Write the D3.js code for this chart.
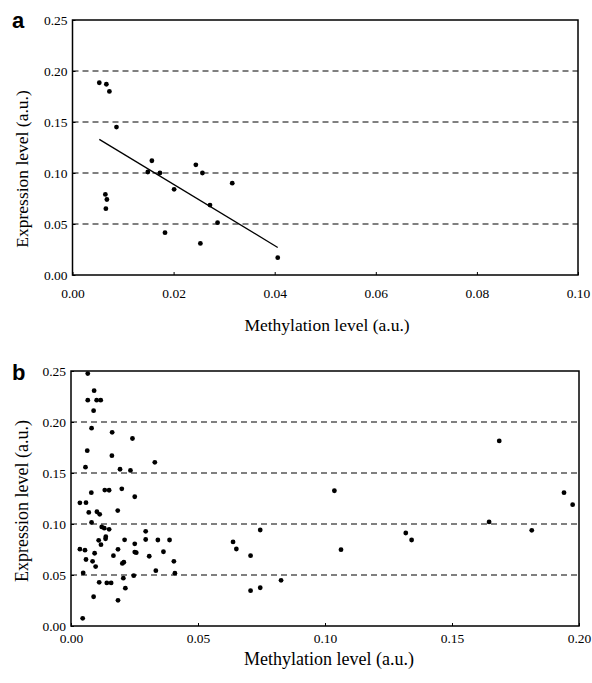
<!DOCTYPE html>
<html><head><meta charset="utf-8">
<script src="https://cdn.jsdelivr.net/npm/d3@7"></script>
<style>body{margin:0;background:#fff}svg{display:block}</style>
</head><body>
<script>
// Panel a data
const aMeth = [0.0053,0.0067,0.0073,0.0087,0.0065,0.0068,0.0066,0.0149,0.0157,0.0173,0.0201,0.0183,0.0244,0.0257,0.0253,0.0272,0.0287,0.0316,0.0406];
const aExpr = [0.1885,0.187,0.180,0.145,0.079,0.074,0.065,0.101,0.112,0.100,0.084,0.0415,0.108,0.100,0.031,0.0686,0.0513,0.090,0.017];
const aFitMeth = [0.0053,0.0406];
const aFitExpr = [0.133,0.027];
// Panel b data
const bMeth = [0.0066,0.0091,0.0066,0.0101,0.0117,0.0089,0.0081,0.0162,0.0242,0.0064,0.0161,0.0057,0.0193,0.0234,0.0330,
  0.0080,0.0133,0.0150,0.0200,0.0251,0.0035,0.0059,0.0070,0.0102,0.0113,0.0184,0.0081,0.0121,0.0131,0.0150,0.0294,
  0.0137,0.0136,0.0109,0.0211,0.0251,0.0294,0.0342,0.0388,0.0118,0.0035,0.0055,0.0093,0.0185,0.0167,0.0251,0.0257,
  0.0059,0.0085,0.0308,0.0364,0.0208,0.0202,0.0097,0.0405,0.0048,0.0247,0.0334,0.0409,0.0111,0.0141,0.0158,0.0206,
  0.0214,0.0089,0.0185,0.0046,
  0.0638,0.0651,0.0745,0.0707,0.0707,0.0745,0.0827,0.1037,0.1063,0.1318,0.1341,0.1646,0.1686,0.1814,0.1941,0.1975];
const bExpr = [0.2475,0.2307,0.2214,0.2214,0.2214,0.2111,0.1939,0.1899,0.1838,0.1719,0.1670,0.1557,0.1537,0.1525,0.1605,
  0.1307,0.1333,0.1331,0.1345,0.1267,0.1208,0.1209,0.1113,0.1120,0.1095,0.1132,0.1015,0.0971,0.0959,0.0948,0.0928,
  0.0875,0.0855,0.0840,0.0845,0.0806,0.0848,0.0843,0.0843,0.0797,0.0753,0.0743,0.0713,0.0752,0.0689,0.0725,0.0719,
  0.0652,0.0634,0.0684,0.0728,0.0625,0.0613,0.0583,0.0634,0.0520,0.0493,0.0542,0.0518,0.0428,0.0422,0.0422,0.0469,
  0.0371,0.0287,0.0252,0.0075,
  0.0824,0.0755,0.0941,0.0689,0.0346,0.0375,0.0448,0.1326,0.0748,0.0912,0.0843,0.1020,0.1814,0.0938,0.1307,0.1189];
const yTicks = [0,0.05,0.10,0.15,0.20,0.25];
const gridTicks = [0.05,0.10,0.15,0.20];
const aXTicks = [0,0.02,0.04,0.06,0.08,0.10];
const bXTicks = [0,0.05,0.10,0.15,0.20];
const yTitle = "Expression level (a.u.)";
const xTitle = "Methylation level (a.u.)";

const W = 592, H = 683;
const svg = d3.select("body").append("svg").attr("width", W).attr("height", H);
const serif = "'Liberation Serif', Tinos, 'Times New Roman', 'DejaVu Serif', serif";

function panel(o) {
  const x = d3.scaleLinear().domain(o.xDomain).range([o.left, o.right]);
  const y = d3.scaleLinear().domain([0, 0.25]).range([o.bottom, o.top]);
  const g = svg.append("g");
  g.selectAll("line.grid").data(gridTicks).join("line")
    .attr("x1", o.left).attr("x2", o.right)
    .attr("y1", d => y(d)).attr("y2", d => y(d))
    .attr("stroke", "#000").attr("stroke-width", 1).attr("stroke-dasharray", "6,4");
  const ya = d3.axisLeft(y).tickValues(yTicks).tickFormat(d3.format(".2f")).tickSize(-3).tickPadding(5);
  const xa = d3.axisBottom(x).tickValues(o.xTicks).tickFormat(d3.format(".2f")).tickSize(-3).tickPadding(o.xPad);
  const gy = g.append("g").attr("transform", `translate(${o.left},0)`).call(ya);
  const gx = g.append("g").attr("transform", `translate(0,${o.bottom})`).call(xa);
  [gy, gx].forEach(a => {
    a.attr("font-family", null).attr("font-size", null);
    a.select(".domain").remove();
    a.selectAll("text").style("font-family", serif).style("font-size", "13.5px").attr("fill", "#000");
    a.selectAll("line").attr("stroke", "#000");
  });
  g.append("rect").attr("x", o.left).attr("y", o.top)
    .attr("width", o.right - o.left).attr("height", o.bottom - o.top)
    .attr("fill", "none").attr("stroke", "#000").attr("stroke-width", 1.5);
  g.selectAll("circle").data(o.xs.map((v, i) => [v, o.ys[i]])).join("circle")
    .attr("cx", d => x(d[0])).attr("cy", d => y(d[1])).attr("r", 2.4).attr("fill", "#000");
  if (o.fitX) {
    g.append("path").datum(o.fitX.map((v, i) => [v, o.fitY[i]]))
      .attr("d", d3.line().x(d => x(d[0])).y(d => y(d[1])))
      .attr("stroke", "#000").attr("stroke-width", 1.3).attr("fill", "none");
  }
  g.append("text").attr("x", o.xTitleX).attr("y", o.xTitleY)
    .attr("text-anchor", "middle").style("font-family", serif).style("font-size", o.titleSize + "px")
    .text(xTitle);
  g.append("text").attr("transform", `translate(28,${o.yTitleY}) rotate(-90)`)
    .attr("text-anchor", "middle").style("font-family", serif).style("font-size", o.titleSize + "px")
    .text(yTitle);
  g.append("text").attr("x", 12).attr("y", o.letterY)
    .style("font-family", "'Liberation Sans', Arimo, Arial, sans-serif").style("font-weight", "bold")
    .style("font-size", "22px").text(o.letter);
}

panel({letter: "a", letterY: 28, left: 72.5, right: 578, top: 20, bottom: 275,
  xDomain: [0, 0.10], xTicks: aXTicks, xPad: 13, xTitleX: 327, xTitleY: 331, titleSize: 17.5, yTitleY: 169,
  xs: aMeth, ys: aExpr, fitX: aFitMeth, fitY: aFitExpr});
panel({letter: "b", letterY: 380, left: 71, right: 579, top: 371, bottom: 626,
  xDomain: [0, 0.20], xTicks: bXTicks, xPad: 7, xTitleX: 329, xTitleY: 665, titleSize: 18, yTitleY: 501,
  xs: bMeth, ys: bExpr});
</script>
</body></html>
